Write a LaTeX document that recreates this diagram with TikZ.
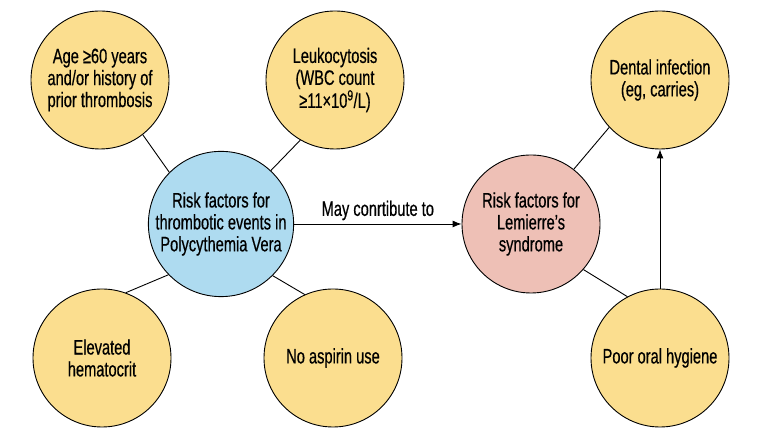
\documentclass[tikz,border=0pt]{standalone}
\usepackage{fontspec}
\setmainfont{Liberation Sans}[FakeStretch=0.7,FakeBold=0.5]
\usetikzlibrary{arrows.meta}
\definecolor{factor}{RGB}{251,222,143}
\definecolor{pvblue}{RGB}{174,219,240}
\definecolor{lspink}{RGB}{238,192,182}
\tikzset{
  risk/.style={circle, draw=black, line width=0.9bp, minimum size=138bp,
    inner sep=0pt, align=center, font=\fontsize{21}{22}\selectfont},
  link/.style={line width=0.9bp},
}
\begin{document}
\begin{tikzpicture}[x=1bp,y=1bp]
    \useasboundingbox (0,0) rectangle (760,440);
    % central circles
    \node[risk, fill=pvblue] (pv) at (221,216)
      {Risk factors for\\thrombotic events in\\Polycythemia Vera};
    \node[risk, fill=lspink] (lemierre) at (531,216)
      {Risk factors for\\Lemierre’s\\syndrome};
    % factors
    \node[risk, fill=factor] (age) at (100,360)
      {Age ≥60 years\\and/or history of\\prior thrombosis};
    \node[risk, fill=factor] (leuko) at (335,360)
      {Leukocytosis\\(WBC count\\≥11×10\textsuperscript{9}/L)};
    \node[risk, fill=factor] (hct) at (102,82)
      {Elevated\\hematocrit};
    \node[risk, fill=factor] (aspirin) at (333,82)
      {No aspirin use};
    \node[risk, fill=factor] (dental) at (660,360)
      {Dental infection\\(eg, carries)};
    \node[risk, fill=factor] (hygiene) at (660,82)
      {Poor oral hygiene};
    % links
    \foreach \a/\b in {age.308/pv.135, leuko.240/pv.47, hct.70/pv.224,
      aspirin.114/pv.315, dental.223/lemierre.52, hygiene.118/lemierre.319}
      \draw[link] (\a) -- (\b);
    \draw[link, -{Latex[length=9bp,width=7bp]}] (pv) -- (lemierre)
      node[midway, above, font=\fontsize{21}{22}\selectfont]{May conrtibute to};
    \draw[link, -{Latex[length=9bp,width=7bp]}] (hygiene) -- (dental);
\end{tikzpicture}
\end{document}
